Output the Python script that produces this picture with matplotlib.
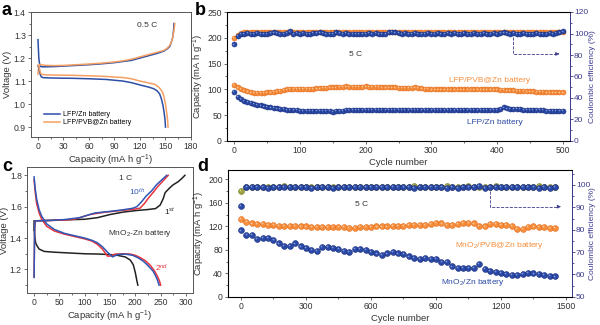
import matplotlib.pyplot as plt
from matplotlib.ticker import MultipleLocator
from matplotlib.transforms import offset_copy

plt.rcParams['font.family'] = ['Liberation Sans', 'DejaVu Sans']
plt.rcParams['mathtext.fontset'] = 'custom'
plt.rcParams['mathtext.rm'] = 'Liberation Sans'
plt.rcParams['mathtext.it'] = 'Liberation Sans:italic'

# ---- panel a: LFP charge / discharge curves (0.5 C)
a_zn_chg_x = [0, 0.5, 1, 2, 3, 5, 10, 20, 30, 45, 60, 75, 90, 100, 110, 120, 130, 140, 148, 152, 155, 157, 158.5, 159.5, 160]
a_zn_chg_y = [1.28, 1.24, 1.20, 1.17, 1.163, 1.162, 1.162, 1.163, 1.165, 1.168, 1.171, 1.175, 1.18, 1.185, 1.19, 1.20, 1.21, 1.22, 1.23, 1.24, 1.25, 1.27, 1.29, 1.32, 1.35]
a_zn_dis_x = [0, 1, 2, 3, 4, 6, 10, 20, 40, 60, 80, 100, 110, 120, 130, 136, 140, 143, 145, 147, 148.5, 149.5, 150]
a_zn_dis_y = [1.165, 1.16, 1.14, 1.125, 1.118, 1.115, 1.114, 1.113, 1.112, 1.11, 1.107, 1.10, 1.093, 1.083, 1.074, 1.067, 1.058, 1.045, 1.025, 0.995, 0.96, 0.93, 0.90]
a_pvb_chg_x = [0, 0.5, 1, 2, 3, 5, 10, 20, 30, 45, 60, 75, 90, 100, 110, 120, 130, 140, 148, 152, 155, 157, 158.5, 160, 161]
a_pvb_chg_y = [1.13, 1.15, 1.165, 1.172, 1.172, 1.17, 1.168, 1.167, 1.168, 1.171, 1.174, 1.178, 1.183, 1.188, 1.195, 1.205, 1.215, 1.225, 1.233, 1.243, 1.255, 1.27, 1.29, 1.32, 1.35]
a_pvb_dis_x = [0, 1, 2, 3, 4, 6, 10, 20, 40, 60, 80, 100, 110, 120, 130, 138, 143, 146, 148, 150, 151.5, 152.5, 153]
a_pvb_dis_y = [1.17, 1.165, 1.15, 1.135, 1.13, 1.128, 1.127, 1.126, 1.125, 1.123, 1.12, 1.115, 1.11, 1.10, 1.092, 1.085, 1.07, 1.055, 1.035, 1.0, 0.96, 0.93, 0.90]

# ---- panel b: LFP cycling at 5 C (every 5 cycles)
b_cycles = list(range(0, 501, 5))
b_zn_cap = [95, 85, 81, 78, 76, 74, 72, 70, 69, 67,
            66, 65, 64, 63, 62, 62, 61, 60, 60, 60,
            59, 59, 59, 59, 59, 58, 58, 58, 58, 58,
            57, 59, 59, 59, 60, 60, 60, 60, 60, 60,
            60, 60, 60, 60, 60, 60, 60, 60, 60, 60,
            60, 60, 60, 60, 60, 60, 60, 60, 60, 60,
            60, 61, 61, 61, 61, 61, 61, 61, 61, 61,
            61, 61, 61, 61, 61, 61, 61, 61, 61, 61,
            61, 62, 65, 63, 62, 62, 62, 62, 61, 61,
            61, 61, 60, 60, 60, 59, 59, 59, 58, 58,
            58]
b_pvb_cap = [109, 104, 101, 98, 96, 94, 93, 93, 93, 93,
             94, 94, 95, 96, 97, 99, 100, 101, 101, 101,
             101, 101, 101, 101, 101, 102, 102, 103, 103, 104,
             104, 104, 105, 105, 106, 105, 105, 105, 105, 105,
             106, 105, 105, 105, 105, 104, 104, 104, 104, 104,
             103, 103, 103, 103, 103, 104, 103, 102, 101, 101,
             100, 100, 100, 100, 100, 100, 100, 100, 100, 100,
             100, 100, 100, 100, 100, 100, 100, 100, 100, 100,
             100, 99, 99, 98, 98, 98, 97, 97, 97, 96,
             96, 96, 95, 95, 95, 94, 94, 94, 94, 94,
             94]
b_zn_ce = [90, 98, 99.5, 100, 100.5, 100, 100, 100.5, 100, 100,
           100, 100.5, 101, 100.5, 100, 100, 100.5, 102, 100, 100.5,
           100, 100.5, 100, 100, 100.5, 100.5, 101, 100.5, 100, 99.5,
           100, 101, 100.5, 100, 100.5, 100, 100, 99.5, 100, 99.5,
           100, 100.5, 100, 100.5, 100, 99.5, 100, 101, 101.5, 101,
           100.5, 100, 100.5, 100, 100, 100.5, 100, 99.5, 100, 100.5,
           99.5, 100, 100.5, 100, 100, 100.5, 100, 100.5, 100, 100,
           100.5, 100, 100, 100.5, 100, 100, 100.5, 100, 100, 100.5,
           100, 100.5, 101, 100.5, 100, 100.5, 100, 100, 100.5, 100,
           99.5, 100, 100.5, 100, 99.5, 100, 100.5, 100, 100.5, 101,
           102]
b_pvb_ce = [96, 99, 100.5, 101, 101, 101, 101, 101, 101, 101,
            101, 101, 101, 101, 101, 101, 101, 101, 101, 101,
            101, 101, 101, 101, 101, 101, 101, 101, 101, 101,
            101, 101, 101, 101, 101, 101, 101, 101, 101, 101,
            101, 101, 101, 101, 101, 101, 101, 101, 101, 101,
            101, 101, 101, 101, 101, 101, 101, 101, 101, 101,
            101, 101, 101, 101, 101, 101, 101, 101, 101, 101,
            101, 101, 101, 101, 101, 101, 101, 101, 101, 101,
            101, 101, 101, 101, 101, 101, 101, 101, 101, 101,
            101, 101, 101, 101, 101, 101, 101, 101, 101, 101,
            101]

# ---- panel c: MnO2-Zn charge / discharge (1 C)
c1_dis_x = [0, 1, 3, 6, 10, 20, 40, 70, 100, 130, 160, 180, 190, 196, 200, 203, 205]
c1_dis_y = [1.51, 1.42, 1.37, 1.35, 1.33, 1.315, 1.31, 1.305, 1.30, 1.298, 1.293, 1.28, 1.26, 1.23, 1.18, 1.13, 1.10]
c1_chg_x = [0, 1, 2, 20, 50, 80, 100, 125, 150, 175, 200, 225, 240, 249, 255, 259, 268, 275, 285, 292, 298]
c1_chg_y = [1.45, 1.50, 1.51, 1.512, 1.515, 1.518, 1.52, 1.53, 1.55, 1.565, 1.575, 1.582, 1.588, 1.61, 1.65, 1.69, 1.72, 1.74, 1.76, 1.78, 1.80]
c2_dis_x = [0, 2, 5, 10, 15, 25, 40, 60, 80, 100, 115, 125, 135, 145, 150, 160, 175, 190, 200, 210, 220, 230, 238, 244, 248, 250]
c2_dis_y = [1.77, 1.70, 1.62, 1.56, 1.52, 1.475, 1.445, 1.425, 1.41, 1.395, 1.38, 1.36, 1.33, 1.285, 1.285, 1.298, 1.30, 1.298, 1.29, 1.275, 1.255, 1.225, 1.19, 1.155, 1.125, 1.10]
c2_chg_x = [0, 1, 2, 30, 60, 80, 110, 140, 170, 195, 209, 218, 226, 235, 245, 255, 265]
c2_chg_y = [1.15, 1.45, 1.51, 1.512, 1.515, 1.52, 1.55, 1.565, 1.575, 1.583, 1.59, 1.62, 1.655, 1.69, 1.73, 1.765, 1.80]
c10_dis_x = [0, 2, 5, 10, 15, 25, 40, 60, 80, 100, 115, 125, 135, 145, 155, 165, 180, 195, 205, 215, 225, 235, 240, 244, 247]
c10_dis_y = [1.79, 1.72, 1.65, 1.58, 1.54, 1.49, 1.455, 1.43, 1.415, 1.40, 1.385, 1.37, 1.345, 1.31, 1.28, 1.295, 1.298, 1.29, 1.275, 1.255, 1.225, 1.19, 1.16, 1.13, 1.10]
c10_chg_x = [0, 1, 2, 30, 60, 90, 120, 150, 175, 195, 203, 212, 222, 232, 242, 252, 262]
c10_chg_y = [1.15, 1.45, 1.51, 1.512, 1.518, 1.53, 1.56, 1.57, 1.58, 1.59, 1.60, 1.63, 1.67, 1.70, 1.74, 1.77, 1.80]

# ---- panel d: MnO2 cycling at 5 C (every 25 cycles)
d_cycles = list(range(0, 1451, 25))
d_zn_cap = [113, 105, 105, 99, 101, 101, 97, 91, 87, 87,
            91, 86, 83, 80, 78, 85, 85, 84, 82, 78,
            76, 81, 81, 80, 77, 74, 72, 74, 76, 74,
            73, 69, 67, 64, 67, 65, 64, 60, 59, 52,
            50, 50, 50, 50, 56, 47, 45, 43, 41, 39,
            38, 38, 39, 41, 40, 39, 37, 36, 35]
d_pvb_cap = [132, 128, 125, 124, 124, 123, 122, 121, 121, 121,
             121, 120, 120, 119, 119, 119, 119, 119, 119, 119,
             118, 118, 119, 119, 119, 120, 120, 120, 121, 121,
             121, 122, 122, 123, 123, 124, 126, 125, 123, 122,
             124, 126, 126, 125, 121, 120, 124, 124, 123, 122,
             121, 116, 115, 119, 120, 119, 119, 118, 118]
d_zn_ce = [90.5, 99, 99, 99, 99, 98.7, 99, 99, 99.2, 99,
           99, 99, 99, 98.8, 99, 99, 99.2, 98.8, 99, 99,
           99, 99, 99, 99, 99, 99.2, 99, 99, 99, 99,
           99, 99, 98.8, 99, 99, 99, 99, 99, 98.8, 99,
           98.8, 99, 99, 99, 99.5, 98.6, 99, 99, 99, 99,
           99, 99, 99, 99, 99, 98.8, 99, 98.6, 99.3]
d_pvb_ce = [97.3, 99.3, 99.3, 99.3, 99.3, 99.3, 99.3, 99.3, 99.6, 99.3,
            99.3, 99.3, 99.3, 99.3, 99.3, 99.3, 99.3, 99.3, 99.3, 99.3,
            99.3, 99.3, 99.3, 99.3, 99.3, 99.3, 99.3, 99.3, 99.3, 99.3,
            99.3, 99.3, 99.6, 99.3, 99.3, 99.3, 99.3, 99.3, 99.6, 99.3,
            99.3, 99.3, 99.6, 99.3, 99.3, 99.3, 99.3, 99.7, 99.3, 99.3,
            99.3, 99.3, 99.3, 99.3, 99.3, 99.6, 99.3, 99.3, 99.3]

BLUE = '#2b49a6'
BLUE_EDGE = '#162c7a'
BLUE_HI = '#7f98dc'
ORANGE = '#f68e3c'
ORANGE_EDGE = '#e26c1d'
ORANGE_HI = '#fcc79a'
OLIVE = '#9ea13f'
OLIVE_HI = '#d3d58c'
NAVY = '#3d3b8e'
LINE_BLUE = '#2d4ea5'
LINE_ORANGE = '#f5a062'
AX_COL = '#555555'
TXT = '#333333'
TICK_FS = 6.2
LAB_FS = 6.8


def style(ax, xmaj, xmin, ymaj, ymin):
    ax.xaxis.set_major_locator(MultipleLocator(xmaj))
    ax.xaxis.set_minor_locator(MultipleLocator(xmin))
    ax.yaxis.set_major_locator(MultipleLocator(ymaj))
    ax.yaxis.set_minor_locator(MultipleLocator(ymin))
    ax.tick_params(which='both', direction='out', labelsize=TICK_FS, colors=AX_COL,
                   labelcolor=TXT, width=0.6, pad=1.2)
    ax.tick_params(which='major', length=2.5)
    ax.tick_params(which='minor', length=1.5)
    for s in ax.spines.values():
        s.set_linewidth(0.7)
        s.set_color(AX_COL)


def style_right(ax2, ymaj, ymin, label_x):
    ax2.yaxis.set_major_locator(MultipleLocator(ymaj))
    ax2.yaxis.set_minor_locator(MultipleLocator(ymin))
    ax2.tick_params(which='both', direction='out', labelsize=6, colors=NAVY, width=0.6, pad=0.8)
    ax2.tick_params(which='major', length=2)
    ax2.tick_params(which='minor', length=1.3)
    ax2.spines['right'].set_color(NAVY)
    ax2.spines['right'].set_linewidth(0.7)
    ax2.set_ylabel('Coulombic efficiency (%)', color=NAVY, fontsize=6)
    # label is anchored at its left side, so this is where its left edge sits
    ax2.yaxis.set_label_coords(label_x, 0.5)


def balls(ax, x, y, face, edge, hi, ms):
    ax.plot(x, y, 'o', ls='none', ms=ms, mfc=face, mec=edge, mew=0.4)
    shifted = offset_copy(ax.transData, fig=ax.figure, x=-ms * 0.15, y=ms * 0.15, units='points')
    ax.plot(x, y, 'o', ls='none', ms=ms * 0.3, mfc=hi, mec='none', transform=shifted)


fig = plt.figure(figsize=(6, 3.25), dpi=100)

# panel a
ax = fig.add_axes([31 / 600, 1 - 137 / 325, 160 / 600, 125 / 325])
ax.plot(a_zn_chg_x, a_zn_chg_y, color=LINE_BLUE, lw=1.1, label='LFP/Zn battery')
ax.plot(a_pvb_chg_x, a_pvb_chg_y, color=LINE_ORANGE, lw=1.1, label='LFP/PVB@Zn battery')
ax.plot(a_zn_dis_x, a_zn_dis_y, color=LINE_BLUE, lw=1.1)
ax.plot(a_pvb_dis_x, a_pvb_dis_y, color=LINE_ORANGE, lw=1.1)
ax.set_xlim(-8.2, 180)
ax.set_ylim(0.857, 1.4)
style(ax, 30, 15, 0.1, 0.05)
ax.set_xlabel('Capacity (mA h g$^{-1}$)', fontsize=LAB_FS, color=TXT, labelpad=1)
ax.set_ylabel('Voltage (V)', fontsize=LAB_FS, color=TXT, labelpad=1)
ax.text(128, 1.343, '0.5 C', fontsize=6, color=TXT, ha='center', va='center')
ax.legend(loc='lower left', bbox_to_anchor=(0.06, 0.06), frameon=False, fontsize=5,
          handlelength=2.3, labelspacing=0.1, borderpad=0, handletextpad=0.4)

# panel b
ax = fig.add_axes([227 / 600, 1 - 141 / 325, 343 / 600, 129 / 325])
ax2 = ax.twinx()
balls(ax, b_cycles, b_pvb_cap, ORANGE, ORANGE_EDGE, ORANGE_HI, 3.6)
balls(ax, b_cycles, b_zn_cap, BLUE, BLUE_EDGE, BLUE_HI, 3.6)
balls(ax2, b_cycles, b_pvb_ce, ORANGE, ORANGE_EDGE, ORANGE_HI, 3.6)
balls(ax2, b_cycles, b_zn_ce, BLUE, BLUE_EDGE, BLUE_HI, 3.6)
ax.set_xlim(-11, 511)
ax.set_ylim(0, 250)
ax2.set_ylim(0, 120)
style(ax, 100, 50, 50, 25)
style_right(ax2, 20, 10, 1.056)
ax.set_xlabel('Cycle number', fontsize=LAB_FS, color=TXT, labelpad=2)
ax.set_ylabel('Capacity (mA h g$^{-1}$)', fontsize=LAB_FS, color=TXT, labelpad=1)
ax.text(184, 167, '5 C', fontsize=6, color=TXT, ha='center', va='center')
ax.text(389, 118, 'LFP/PVB@Zn battery', fontsize=6, color=ORANGE, ha='center', va='center')
ax.text(397, 35, 'LFP/Zn battery', fontsize=6, color=BLUE, ha='center', va='center')
ax2.plot([424, 424, 490], [97, 81, 81], ls='--', color=NAVY, lw=0.6)
ax2.annotate('', xy=(499, 81), xytext=(488, 81),
             arrowprops=dict(arrowstyle='-|>', color=NAVY, lw=0.6, mutation_scale=5))

# panel c
ax = fig.add_axes([27 / 600, 1 - 293 / 325, 166 / 600, 126 / 325])
ax.plot(c1_dis_x, c1_dis_y, color='#222222', lw=1.1)
ax.plot(c1_chg_x, c1_chg_y, color='#222222', lw=1.1)
ax.plot(c2_dis_x, c2_dis_y, color='#e8333b', lw=1.1)
ax.plot(c2_chg_x, c2_chg_y, color='#e8333b', lw=1.1)
ax.plot(c10_dis_x, c10_dis_y, color='#2f55b5', lw=1.1)
ax.plot(c10_chg_x, c10_chg_y, color='#2f55b5', lw=1.1)
ax.set_xlim(-14, 314)
ax.set_ylim(1.05, 1.853)
style(ax, 50, 25, 0.2, 0.1)
ax.set_xlabel('Capacity (mA h g$^{-1}$)', fontsize=LAB_FS, color=TXT, labelpad=1)
ax.set_ylabel('Voltage (V)', fontsize=LAB_FS, color=TXT, labelpad=0.5)
ax.text(180, 1.78, '1 C', fontsize=6, color=TXT, ha='center', va='center')
ax.text(209, 1.43, 'MnO$_2$-Zn battery', fontsize=6, color=TXT, ha='center', va='center')
ax.text(203, 1.69, '10$^{th}$', fontsize=6, color='#2f55b5', ha='center', va='center')
ax.text(268, 1.57, '1$^{st}$', fontsize=6, color='#222222', ha='center', va='center')
ax.text(252, 1.21, '2$^{nd}$', fontsize=6, color='#e8333b', ha='center', va='center')

# panel d
ax = fig.add_axes([228 / 600, 1 - 297 / 325, 344 / 600, 127 / 325])
ax2 = ax.twinx()
balls(ax, d_cycles, d_pvb_cap, ORANGE, ORANGE_EDGE, ORANGE_HI, 4.2)
balls(ax, d_cycles, d_zn_cap, BLUE, BLUE_EDGE, BLUE_HI, 4.2)
balls(ax2, d_cycles, d_pvb_ce, OLIVE, '#6f7222', OLIVE_HI, 4.2)
balls(ax2, d_cycles, d_zn_ce, BLUE, BLUE_EDGE, BLUE_HI, 4.2)
ax.set_xlim(-60, 1528)
ax.set_ylim(0, 215.8)
ax2.set_ylim(49.9, 106.7)
style(ax, 300, 150, 40, 20)
style_right(ax2, 10, 5, 1.05)
ax.set_xlabel('Cycle number', fontsize=LAB_FS, color=TXT, labelpad=2)
ax.set_ylabel('Capacity (mA h g$^{-1}$)', fontsize=LAB_FS, color=TXT, labelpad=1)
ax.text(558, 157, '5 C', fontsize=6, color=TXT, ha='center', va='center')
ax.text(1195, 88, 'MnO$_2$/PVB@Zn battery', fontsize=6, color=ORANGE, ha='center', va='center')
ax.text(1071, 25, 'MnO$_2$/Zn battery', fontsize=6, color=BLUE, ha='center', va='center')
ax2.plot([1149, 1149, 1460], [97.5, 90.3, 90.3], ls='--', color=NAVY, lw=0.6)
ax2.annotate('', xy=(1490, 90.3), xytext=(1455, 90.3),
             arrowprops=dict(arrowstyle='-|>', color=NAVY, lw=0.6, mutation_scale=5))

# panel letters
fig.text(0.003, 0.995, 'a', fontsize=13, fontweight='bold', va='top', ha='left')
fig.text(0.325, 0.995, 'b', fontsize=13, fontweight='bold', va='top', ha='left')
fig.text(0.003, 0.515, 'c', fontsize=13, fontweight='bold', va='top', ha='left')
fig.text(0.328, 0.515, 'd', fontsize=13, fontweight='bold', va='top', ha='left')

fig.savefig('out.png', dpi=100)
